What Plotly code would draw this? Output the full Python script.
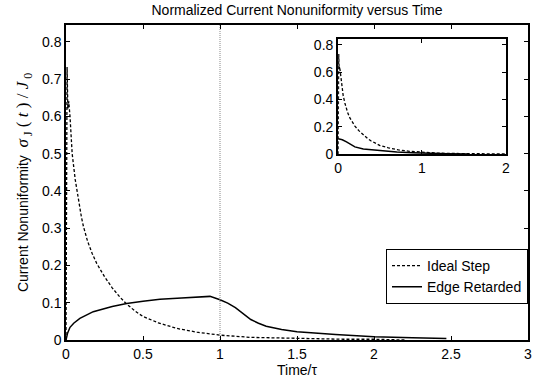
import plotly.graph_objects as go

# ---- data ----
t_ideal = [0, 0.003, 0.007, 0.012, 0.018, 0.026, 0.04, 0.06, 0.08, 0.1, 0.113, 0.14, 0.17,
           0.2, 0.25, 0.3, 0.35, 0.39, 0.45, 0.5, 0.6, 0.72, 0.85, 1.0, 1.2, 1.5, 1.8, 2.0, 2.2]
v_ideal = [0, 0.5, 0.732, 0.62, 0.64, 0.6, 0.5, 0.43, 0.375, 0.33, 0.305, 0.265, 0.232,
           0.205, 0.17, 0.14, 0.115, 0.098, 0.077, 0.063, 0.046, 0.031, 0.021, 0.013, 0.007,
           0.004, 0.002, 0.002, 0.0]

t_edge = [0, 0.01, 0.026, 0.05, 0.09, 0.177, 0.3, 0.394, 0.5, 0.61, 0.75, 0.85, 0.935, 1.0, 1.05,
          1.1, 1.15, 1.2, 1.25, 1.3, 1.4, 1.5, 1.75, 2.0, 2.25, 2.47]
v_edge = [0, 0.018, 0.034, 0.045, 0.058, 0.076, 0.09, 0.098, 0.104, 0.109, 0.113, 0.116, 0.117,
          0.108, 0.099, 0.087, 0.07, 0.055, 0.045, 0.037, 0.028, 0.022, 0.015, 0.009, 0.006, 0.004]

t_inset_edge = [0, 0.05, 0.1, 0.15, 0.2, 0.3, 0.5, 0.7, 0.89, 1.1, 1.3, 1.55]
v_inset_edge = [0.112, 0.105, 0.09, 0.07, 0.053, 0.037, 0.024, 0.015, 0.01, 0.005, 0.003, 0.002]

x_ticks_main = [0, 0.5, 1, 1.5, 2, 2.5, 3]
y_ticks_main = [0, 0.1, 0.2, 0.3, 0.4, 0.5, 0.6, 0.7, 0.8]
x_ticks_inset = [0, 1, 2]
y_ticks_inset = [0, 0.2, 0.4, 0.6, 0.8]
marker_time = 1.0

FONT = "Liberation Sans"
FS = 14
W, H = 537, 381

fig = go.Figure()
fig.add_trace(go.Scatter(x=t_ideal, y=v_ideal, mode="lines", name="Ideal Step",
                         line=dict(color="black", width=1.3, dash="3px,2px")))
fig.add_trace(go.Scatter(x=t_edge, y=v_edge, mode="lines", name="Edge Retarded",
                         line=dict(color="black", width=1.5)))
fig.add_trace(go.Scatter(x=[marker_time, marker_time], y=[0, 0.845], mode="lines",
                         showlegend=False, line=dict(color="#888888", width=1, dash="1px,1px")))
fig.add_trace(go.Scatter(x=t_ideal, y=v_ideal, mode="lines", showlegend=False,
                         xaxis="x2", yaxis="y2",
                         line=dict(color="black", width=1.3, dash="3px,2px")))
fig.add_trace(go.Scatter(x=t_inset_edge, y=v_inset_edge, mode="lines", showlegend=False,
                         xaxis="x2", yaxis="y2",
                         line=dict(color="black", width=1.5)))

axis_common = dict(showgrid=False, zeroline=False, showline=True, linecolor="black",
                   mirror="ticks", ticks="inside", tickcolor="black", ticklen=4,
                   automargin=False, ticklabeloverflow="allow",
                   tickfont=dict(family=FONT, size=FS, color="black"))

ytitle = ("Current Nonuniformity  "
          "<span style='font-family:Liberation Serif;font-size:17px'>"
          "<i>σ</i><sub> J</sub> ( <i>t</i> ) / <i>J</i><sub> 0</sub></span>")

fig.update_layout(
    template="none",
    width=W, height=H,
    margin=dict(l=66, r=9, t=25, b=41, autoexpand=False),
    paper_bgcolor="white", plot_bgcolor="white",
    title=dict(text="Normalized Current Nonuniformity versus Time",
               xref="container", x=297 / W, xanchor="center",
               yref="container", y=1 - 10 / H, yanchor="middle",
               font=dict(family=FONT, size=FS, color="black")),
    xaxis=dict(range=[0, 3], tickvals=x_ticks_main, linewidth=1.5,
               title=dict(text="Time/τ", standoff=0, font=dict(family=FONT, size=FS, color="black")),
               **axis_common),
    yaxis=dict(range=[0, 0.845], tickvals=y_ticks_main, linewidth=1.5,
               title=dict(text=ytitle, standoff=10, font=dict(family=FONT, size=FS, color="black")),
               **axis_common),
    xaxis2=dict(domain=[0.589, 0.952], anchor="y2", range=[0, 2], tickvals=x_ticks_inset,
                linewidth=2, **axis_common),
    yaxis2=dict(domain=[0.59, 0.955], anchor="x2", range=[0, 0.84], tickvals=y_ticks_inset,
                linewidth=2, **axis_common),
    legend=dict(x=1.0, xanchor="right", y=0.289, yanchor="top",
                bgcolor="white", bordercolor="black", borderwidth=1,
                font=dict(family=FONT, size=FS, color="black"),
                tracegroupgap=0, itemwidth=30),
    showlegend=True,
)

fig.write_html("out.html", config={"displayModeBar": False},
               post_script="document.body.style.margin='0px';")
